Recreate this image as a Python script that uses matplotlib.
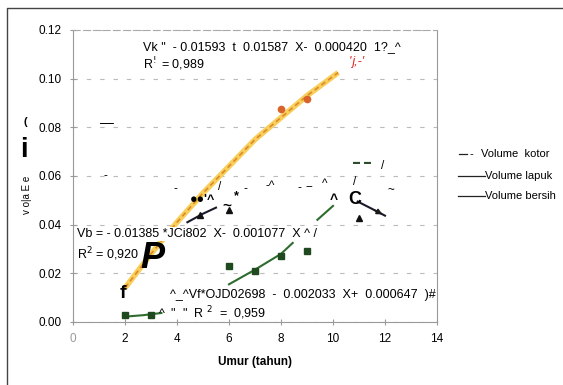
import matplotlib.pyplot as plt
from matplotlib.lines import Line2D

# -- data --
umur_ticks = [0, 2, 4, 6, 8, 10, 12, 14]
vol_ticks = [0.00, 0.02, 0.04, 0.06, 0.08, 0.10, 0.12]

# Volume kotor (orange)
kotor_x = [8, 9]
kotor_y = [0.0875, 0.0916]
kotor_fit_x = [2.0, 3, 4, 5, 6, 7, 8, 9, 10.2]
kotor_fit_y = [0.014, 0.028, 0.041, 0.053, 0.064, 0.075, 0.084, 0.093, 0.1025]

# Volume lapuk (green)
lapuk_x = [2, 3, 6, 7, 8, 9]
lapuk_y = [0.0029, 0.0030, 0.0230, 0.0210, 0.0270, 0.0290]
lapuk_fit_x = [2.0, 2.7, 3.4, None, 6.0, 7.0, 8.0, 8.45, None, 9.4, 10.0]
lapuk_fit_y = [0.0022, 0.0028, 0.0037, None, 0.0155, 0.0215, 0.0280, 0.0325, None, 0.0420, 0.0477]

# Volume bersih (black)
bersih_x = [4.9, 6, 11]
bersih_y = [0.044, 0.046, 0.0427]
bersih_fit_x = [4.4, 5.0, 5.5, None, 10.95, 11.5, 12.0]
bersih_fit_y = [0.041, 0.0445, 0.047, None, 0.0495, 0.0465, 0.0437]

legend_labels = ['Volume  kotor', 'Volume lapuk', 'Volume bersih']

W, H = 563, 385
fig = plt.figure(figsize=(W / 100, H / 100), dpi=100)
ax = fig.add_axes([73 / W, 1 - 322 / H, (437 - 73) / W, (322 - 30) / H])

def px(x, y):
    # pixel position -> figure fraction
    return x / W, 1 - y / H

def tx(x, y, s, **kw):
    kw.setdefault('fontsize', 8.5)
    kw.setdefault('va', 'center')
    fig.text(*px(x, y), s, family='Liberation Sans', **kw)

def hline(x0, x1, y, **kw):
    (a, b), (c, _) = px(x0, y), px(x1, y)
    fig.lines.append(Line2D([a, c], [b, b], transform=fig.transFigure, **kw))

# outer frame of the scan (only top and left edges show)
fig.lines.append(Line2D([7 / W, 7 / W, 1], [0, 1 - 8 / H, 1 - 8 / H],
                        transform=fig.transFigure, color='#444444', lw=1.0))

ax.set_xlim(0, 14)
ax.set_ylim(0, 0.12)
ax.set_xticks(umur_ticks)
ax.set_yticks(vol_ticks)
ax.set_xticklabels([str(t) for t in umur_ticks])
ax.set_yticklabels(['%.2f' % v for v in vol_ticks])
ax.tick_params(length=4, direction='inout', color='#999999', labelsize=8.5, pad=6)
ax.xaxis.get_ticklabels()[0].set_color('#999999')
for lab in ax.get_xticklabels() + ax.get_yticklabels():
    lab.set_family('Liberation Sans')
ax.grid(axis='y', ls=(0, (4, 8)), color='#bbbbbb', lw=0.8)
for s in ['left', 'bottom', 'right']:
    ax.spines[s].set_color('#999999')
ax.spines['top'].set_linestyle((0, (6, 3)))
ax.spines['top'].set_color('#aaaaaa')

# fit lines
ax.plot(kotor_fit_x, kotor_fit_y, color='#f7cf5a', lw=4, solid_capstyle='butt')
ax.plot(kotor_fit_x, kotor_fit_y, color='#e0892a', lw=1.2, ls=(0, (3, 2)))
lx = [float('nan') if v is None else v for v in lapuk_fit_x]
ly = [float('nan') if v is None else v for v in lapuk_fit_y]
ax.plot(lx, ly, color='#2e6b2e', lw=1.5)
bx = [float('nan') if v is None else v for v in bersih_fit_x]
by = [float('nan') if v is None else v for v in bersih_fit_y]
ax.plot(bx, by, color='#1a1a2a', lw=1.5)
ax.annotate('', xy=(bx[-1], by[-1]), xytext=(bx[-2], by[-2]),
            arrowprops=dict(arrowstyle='-|>', color='#1a1a1a', lw=1.2, mutation_scale=8))

# points
ax.plot(kotor_x, kotor_y, 'o', color='#d9642a', ms=4.5, ls='none')
ax.plot(lapuk_x, lapuk_y, 's', color='#1f4a1f', ms=4, ls='none')
ax.plot(bersih_x, bersih_y, '^', color='#111111', ms=4.5, ls='none')

ax.set_xlabel('Umur (tahun)', fontsize=8.5, fontweight='bold', family='Liberation Sans', labelpad=8)

# garbled text from the scan
tx(143, 47, 'Vk "  - 0.01593  t  0.01587  X-  0.000420  1?_^', fontsize=9)
tx(143, 64, 'R$^!$ = 0,989', fontsize=9)
tx(349, 62, "'j,-'", color='#e02020', style='italic', fontsize=9)
tx(77, 234, 'Vb = - 0.01385 *JCi802  X-  0.001077  X ^ /', fontsize=9,
   bbox=dict(fc='white', ec='none', pad=0.5))
tx(77, 254, 'R$^2$ = 0,920', fontsize=9)
tx(140, 258, 'P', fontsize=26, fontweight='bold', style='italic')
tx(120, 293, 'f', fontsize=14, fontweight='bold')
tx(170, 295, '^_^Vf*OJD02698  -  0.002033  X+  0.000647  )#', fontsize=9)
tx(158, 313, '^  "  "  R $^2$  =  0,959', fontsize=9)

tx(100, 123, '—', fontsize=10)
tx(104, 176, '-')
tx(173, 189, '-')
tx(218, 187, '/')
tx(243, 189, '-')
tx(265, 186, '-^')
tx(297, 188, '-')
tx(305, 187, '--')
tx(322, 184, '^')
tx(353, 182, '/')
tx(353, 163, '▬  ▬', fontsize=5, color='#2e4d2e')
tx(381, 166, '/')
tx(388, 190, '~')
tx(190, 200, '●●\'^', fontsize=9, fontweight='bold')
tx(222, 206, '~', fontsize=11, fontweight='bold')
tx(234, 196, '*', fontsize=9, fontweight='bold')
tx(330, 200, '^', fontsize=10, fontweight='bold')
tx(348, 200, 'C', fontsize=13, fontweight='bold')

# y-axis label remnants
tx(20, 150, 'i', fontsize=20, fontweight='bold')
tx(22, 195, 'v o|a E e', fontsize=7, rotation=90)
tx(23, 122, '(', fontsize=8, fontweight='bold')

# legend (drawn as in the scan)
hline(459, 467, 154, color='#222222', lw=0.9)
tx(469, 154, '-', fontsize=8)
tx(481, 154, legend_labels[0], fontsize=8)
hline(458, 485, 176, color='#222222', lw=0.9)
tx(485, 176, legend_labels[1], fontsize=8)
hline(458, 485, 196, color='#222222', lw=0.9)
tx(485, 196, legend_labels[2], fontsize=8)

fig.savefig('out.png', dpi=100)
